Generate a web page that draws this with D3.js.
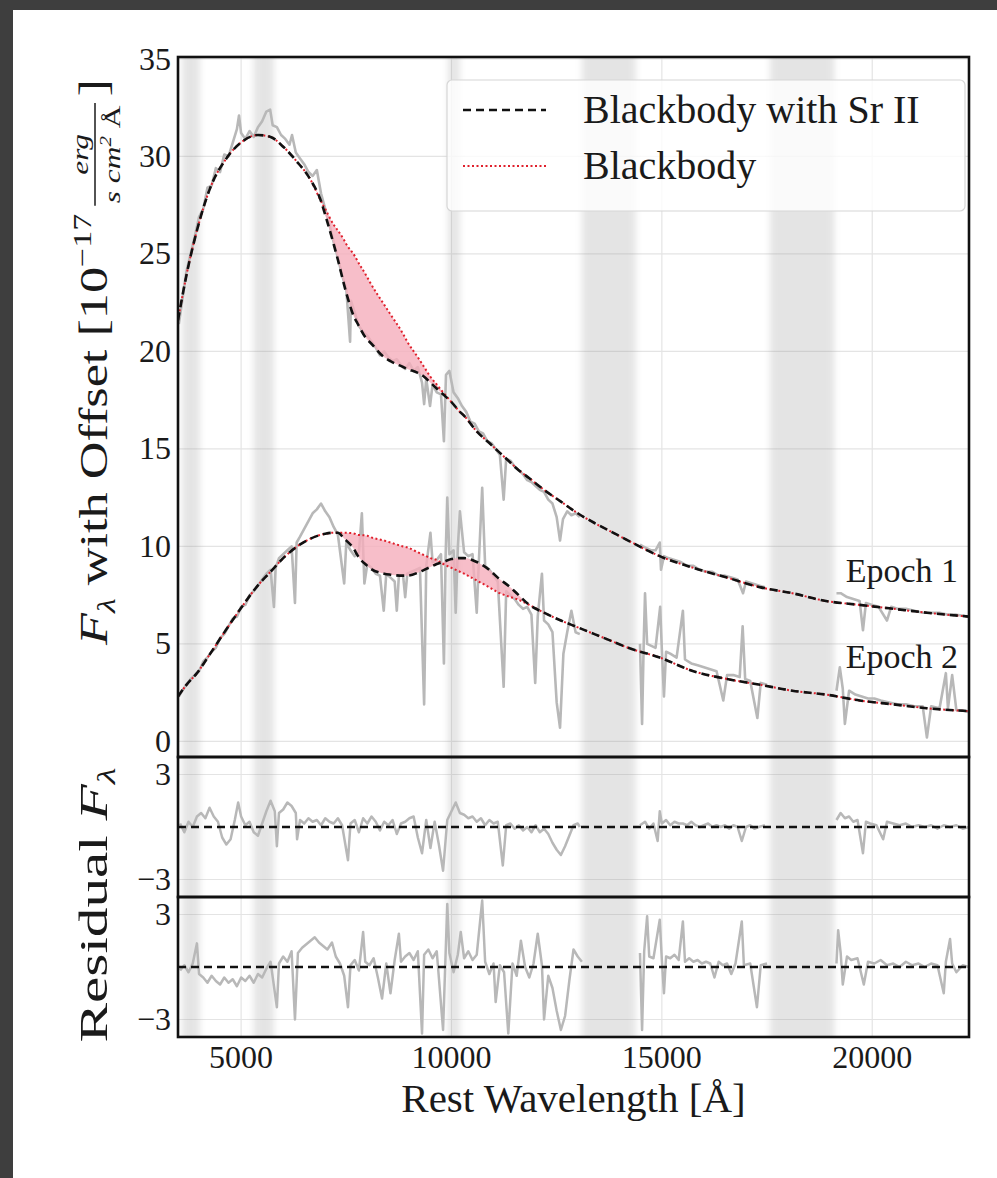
<!DOCTYPE html>
<html><head><meta charset="utf-8">
<script src="https://cdn.jsdelivr.net/npm/d3@7"></script>
<style>
body{margin:0;background:#fff;}
svg{display:block;}
text{font-family:"Liberation Serif","Times New Roman",serif;fill:#1a1a1a;}
</style>
</head><body>
<svg id="c" width="997" height="1178"></svg>
<script>
// ---------------- DATA ----------------
const modelWl = [3500,3700,3950,4250,4650,5050,5400,5700,6000,6300,6650,6900,7000,7200,7300,7450,7500,7700,7750,8000,8050,8400,8550,8850,8950,9200,9350,9500,9650,9800,10000,10200,10300,10600,10900,11100,11400,11550,11850,12200,12600,13000,13400,13800,14200,14950,15750,16550,17350,18100,18900,19700,20500,21300,22300];
// Epoch 1 (offset) : Blackbody and Blackbody with Sr II
const bb1 = [21.6,23.9,26.2,28.3,29.9,30.8,31.1,31.0,30.5,29.8,28.8,27.7,27.3,26.5,26.2,25.7,25.5,24.9,24.7,23.8,23.6,22.4,21.9,20.9,20.5,19.7,19.2,18.7,18.3,17.9,17.4,16.9,16.7,15.9,15.3,14.9,14.3,14.0,13.5,12.9,12.3,11.7,11.2,10.75,10.3,9.5,8.9,8.4,7.9,7.6,7.2,7.0,6.8,6.6,6.4];
const sr1 = [21.6,23.9,26.2,28.3,29.9,30.8,31.1,31.0,30.5,29.8,28.8,27.7,27.0,25.5,24.7,23.4,23.0,21.7,21.5,20.6,20.5,19.7,19.5,19.2,19.1,18.9,18.7,18.4,18.1,17.8,17.4,16.9,16.7,15.9,15.3,14.9,14.3,14.0,13.5,12.9,12.3,11.7,11.2,10.75,10.3,9.5,8.9,8.4,7.9,7.6,7.2,7.0,6.8,6.6,6.4];
// Epoch 2
const bb2 = [2.3,2.9,3.5,4.45,5.75,7.0,8.0,8.7,9.4,9.95,10.4,10.6,10.65,10.7,10.7,10.7,10.7,10.65,10.6,10.55,10.5,10.3,10.2,10.0,9.95,9.7,9.55,9.4,9.3,9.1,8.9,8.7,8.6,8.25,7.9,7.65,7.4,7.3,7.0,6.6,6.2,5.85,5.5,5.15,4.8,4.3,3.6,3.2,2.9,2.6,2.4,2.1,1.9,1.7,1.55];
const sr2 = [2.3,2.9,3.5,4.45,5.75,7.0,8.0,8.7,9.4,9.95,10.4,10.6,10.65,10.7,10.7,10.4,10.3,9.8,9.6,9.0,8.9,8.6,8.55,8.5,8.5,8.65,8.8,8.95,9.1,9.2,9.35,9.4,9.4,9.2,8.8,8.4,7.9,7.6,7.0,6.6,6.2,5.85,5.5,5.15,4.8,4.3,3.6,3.2,2.9,2.6,2.4,2.1,1.9,1.7,1.55];

// Observed spectra [wavelength, flux]; null = telluric gap
const obs1 = [[3520,21.4],[3600,22.6],[3700,24.1],[3800,25.0],[3900,25.9],[4000,26.9],[4100,27.3],[4200,28.4],[4300,28.5],[4400,29.4],[4500,29.2],[4600,30.1],[4700,30.0],[4800,30.7],[4900,31.4],[4950,32.1],[5000,31.2],[5100,30.9],[5200,31.3],[5300,31.0],[5400,31.5],[5500,31.8],[5600,32.3],[5690,32.4],[5750,31.6],[5850,31.5],[5950,31.1],[6050,30.9],[6150,30.6],[6210,31.1],[6300,30.2],[6400,29.9],[6500,29.6],[6600,29.2],[6700,29.0],[6800,29.3],[6900,28.1],[7000,27.3],[7100,26.5],[7200,25.6],[7300,24.8],[7400,23.9],[7500,23.2],[7590,20.5],[7610,22.6],[7700,22.0],[7800,21.3],[7900,21.0],[8000,20.8],[8100,20.5],[8200,20.2],[8300,19.8],[8400,20.0],[8500,19.7],[8600,19.5],[8700,19.6],[8800,19.3],[8900,19.1],[9000,19.4],[9100,19.0],[9200,19.2],[9300,18.4],[9350,17.3],[9400,18.6],[9490,17.2],[9550,18.3],[9650,17.9],[9750,17.8],[9820,15.4],[9870,18.8],[9950,19.0],[10050,17.9],[10150,17.6],[10250,17.2],[10350,16.9],[10450,16.4],[10550,16.3],[10650,15.9],[10750,15.8],[10850,15.4],[10950,15.3],[11050,15.0],[11150,14.7],[11240,12.4],[11300,14.5],[11400,14.4],[11500,14.1],[11600,13.9],[11700,13.7],[11800,13.4],[11900,13.3],[12000,13.1],[12100,12.9],[12200,12.8],[12300,12.4],[12400,12.2],[12500,11.5],[12580,10.3],[12650,11.4],[12750,11.8],[12850,11.6],[12950,11.7],[13050,11.5],
null,
[14480,10.1],[14550,10.0],[14650,9.9],[14750,9.8],[14850,9.8],[14950,10.2],[14980,8.8],[15050,9.5],[15150,9.4],[15300,9.3],[15450,9.2],[15600,9.0],[15750,9.0],[15900,8.8],[16050,8.7],[16200,8.7],[16350,8.5],[16500,8.5],[16650,8.4],[16800,8.3],[16930,7.6],[17000,8.2],[17150,8.1],[17300,8.0],[17450,7.9],
null,
[19150,7.6],[19250,7.6],[19400,7.4],[19550,7.3],[19700,7.2],[19780,5.7],[19850,7.1],[20000,7.0],[20150,6.9],[20350,6.2],[20450,6.9],[20600,6.8],[20800,6.8],[21000,6.7],[21200,6.6],[21400,6.6],[21600,6.6],[21800,6.5],[22000,6.5],[22300,6.4]];

const obs2 = [[3520,2.3],[3600,2.6],[3700,2.9],[3800,3.2],[3900,3.4],[4000,3.6],[4100,4.1],[4200,4.3],[4300,4.6],[4400,4.8],[4500,5.3],[4600,5.5],[4700,5.9],[4800,6.3],[4900,6.4],[5000,6.9],[5100,7.0],[5200,7.5],[5300,7.7],[5400,8.0],[5500,8.3],[5600,8.6],[5700,8.8],[5780,6.9],[5820,8.9],[5900,9.4],[6000,9.6],[6100,9.8],[6200,10.0],[6280,7.1],[6320,10.2],[6400,10.5],[6500,10.9],[6600,11.3],[6700,11.7],[6800,11.9],[6900,12.2],[7000,11.8],[7100,11.5],[7200,11.0],[7300,10.6],[7450,8.1],[7500,10.2],[7600,9.8],[7700,9.5],[7800,9.7],[7870,11.7],[7930,8.1],[8000,9.1],[8100,8.9],[8200,8.6],[8300,8.5],[8390,6.7],[8450,8.6],[8550,8.4],[8650,8.2],[8700,6.7],[8750,8.5],[8850,8.5],[8900,7.4],[8950,8.6],[9050,8.7],[9150,8.8],[9250,8.9],[9350,1.9],[9400,9.0],[9500,10.7],[9550,9.2],[9650,9.3],[9750,9.6],[9820,4.0],[9860,9.4],[9900,12.5],[9950,9.6],[10050,9.8],[10100,6.6],[10150,9.9],[10200,11.8],[10300,9.7],[10400,9.5],[10500,9.6],[10600,6.6],[10650,9.2],[10730,13.0],[10800,9.0],[10900,8.8],[11000,8.5],[11100,8.2],[11240,2.8],[11300,7.7],[11400,7.5],[11500,7.3],[11600,7.0],[11700,6.8],[11800,6.9],[11900,6.5],[11990,3.0],[12050,6.4],[12150,8.6],[12200,6.2],[12300,6.0],[12400,5.6],[12500,2.0],[12580,0.7],[12660,4.5],[12750,5.6],[12850,6.7],[12950,5.6],[13050,5.5],
null,
[14480,5.0],[14530,0.9],[14570,5.2],[14600,7.6],[14650,5.0],[14750,4.9],[14850,4.8],[14960,6.9],[15000,4.7],[15050,2.3],[15100,4.6],[15200,4.5],[15350,4.3],[15500,6.7],[15550,4.2],[15700,4.0],[15850,3.9],[16000,3.8],[16150,3.7],[16300,3.6],[16460,2.1],[16550,3.4],[16700,3.4],[16850,3.3],[16920,5.9],[16980,3.2],[17100,3.1],[17270,1.2],[17350,3.0],[17500,2.9],
null,
[19150,2.6],[19230,3.8],[19300,2.7],[19350,0.9],[19450,2.6],[19600,2.4],[19750,2.3],[19900,2.2],[20050,2.2],[20200,2.1],[20400,2.0],[20600,1.9],[20800,1.9],[21000,1.8],[21200,1.8],[21300,0.2],[21400,1.8],[21600,1.7],[21750,3.5],[21800,1.7],[21900,3.4],[22000,1.6],[22150,1.6],[22300,1.5]];

// Residuals [wavelength, residual]
const res1 = [[3550,0.2],[3650,-0.3],[3750,0.3],[3850,0.0],[3950,0.6],[4050,0.8],[4150,0.5],[4250,1.1],[4350,0.6],[4450,0.3],[4550,-0.6],[4650,-1.0],[4750,-0.7],[4850,0.4],[4930,1.4],[5000,0.6],[5100,0.1],[5200,0.3],[5300,-0.3],[5400,-0.5],[5500,0.2],[5600,0.9],[5700,1.5],[5800,0.9],[5850,-1.1],[5900,0.8],[6000,1.0],[6100,1.4],[6200,1.2],[6300,0.8],[6330,-0.7],[6400,0.4],[6500,0.2],[6600,0.5],[6700,0.3],[6800,0.4],[6900,0.1],[7000,0.5],[7100,0.3],[7200,0.2],[7300,0.5],[7400,0.1],[7540,-1.9],[7600,0.2],[7700,0.4],[7800,-0.3],[7900,0.5],[8000,0.2],[8100,0.6],[8200,0.3],[8300,-0.2],[8400,0.3],[8500,0.1],[8600,0.4],[8700,-0.4],[8800,0.2],[8900,0.3],[9000,0.5],[9100,0.6],[9200,-0.6],[9300,-1.5],[9400,0.4],[9500,-1.2],[9600,0.3],[9700,-1.0],[9800,-2.5],[9900,0.4],[10000,0.9],[10100,1.4],[10200,0.8],[10300,0.7],[10400,0.5],[10500,0.6],[10600,0.3],[10700,0.5],[10800,0.1],[10900,0.4],[11000,0.2],[11100,0.3],[11220,-2.2],[11300,0.1],[11400,0.2],[11500,-0.1],[11600,0.1],[11700,-0.2],[11800,0.0],[11900,-0.3],[12000,0.1],[12100,-0.3],[12200,-0.1],[12300,-0.4],[12400,-0.9],[12500,-1.3],[12600,-1.6],[12700,-1.1],[12800,-0.5],[12900,0.1],[13000,0.2],[13050,0.0],
null,
[14480,0.1],[14600,0.3],[14700,-0.1],[14800,0.2],[14900,-0.8],[14950,0.9],[15000,0.2],[15100,0.4],[15200,0.1],[15300,0.3],[15400,0.2],[15500,0.2],[15600,0.1],[15700,0.3],[15800,0.1],[15900,0.0],[16000,0.1],[16100,0.2],[16200,0.0],[16300,0.1],[16400,0.0],[16500,0.1],[16600,-0.1],[16700,0.1],[16800,0.0],[16900,-0.8],[17000,0.0],[17100,0.1],[17200,-0.1],[17300,0.0],[17450,0.1],
null,
[19150,0.4],[19250,0.8],[19350,0.5],[19450,0.6],[19550,0.3],[19650,0.4],[19780,-1.5],[19850,0.3],[19950,0.2],[20100,0.1],[20260,-0.7],[20350,0.3],[20500,0.2],[20650,0.1],[20800,0.2],[20950,0.0],[21100,0.1],[21250,0.0],[21400,0.1],[21550,-0.1],[21700,0.1],[21850,0.0],[22000,0.1],[22150,-0.1],[22300,0.0]];

const res2 = [[3550,-0.2],[3650,0.1],[3750,-0.3],[3850,0.2],[3950,1.35],[4000,-0.4],[4100,-0.6],[4200,-0.9],[4300,-0.5],[4400,-0.8],[4500,-1.0],[4600,-0.6],[4700,-0.9],[4800,-0.7],[4900,-1.1],[5000,-0.6],[5100,-0.8],[5200,-0.5],[5300,-0.9],[5400,-0.4],[5500,-0.6],[5600,-0.1],[5700,0.3],[5850,-2.3],[5900,0.2],[6000,0.6],[6100,0.3],[6200,0.9],[6280,-3.0],[6350,0.8],[6450,1.1],[6550,1.3],[6650,1.5],[6750,1.7],[6850,1.4],[6950,1.2],[7050,1.0],[7160,1.4],[7250,0.6],[7350,0.2],[7450,-0.5],[7540,-2.3],[7600,0.1],[7700,0.4],[7800,-0.2],[7900,2.0],[7950,0.3],[8050,0.1],[8150,0.5],[8250,-0.6],[8350,-1.8],[8450,0.2],[8550,-1.5],[8650,0.4],[8750,1.9],[8800,0.3],[8900,0.6],[9000,0.8],[9100,0.4],[9200,0.9],[9300,-3.8],[9350,0.7],[9450,1.0],[9550,0.5],[9650,0.9],[9800,-3.6],[9900,3.6],[9950,0.8],[10050,-0.3],[10150,0.7],[10220,2.0],[10300,0.5],[10400,0.9],[10500,0.4],[10600,0.7],[10730,3.8],[10800,0.3],[10900,-0.4],[11000,0.2],[11050,-2.0],[11150,0.1],[11250,-0.3],[11350,-3.8],[11450,0.2],[11550,-0.5],[11650,1.5],[11750,0.0],[11850,-0.6],[11950,0.2],[12050,1.9],[12150,0.1],[12200,-3.0],[12300,-0.5],[12400,-1.2],[12500,-2.5],[12600,-3.6],[12700,-2.8],[12800,-0.8],[12900,1.0],[13000,0.6],[13100,0.3],
null,
[14480,0.8],[14530,-3.6],[14580,0.9],[14650,2.9],[14700,0.6],[14800,0.5],[14950,2.7],[15000,0.4],[15050,-1.5],[15100,0.6],[15200,0.5],[15300,0.7],[15400,0.4],[15500,2.6],[15550,0.3],[15650,0.5],[15750,0.3],[15850,0.4],[15950,0.2],[16050,0.3],[16150,0.2],[16250,-0.6],[16350,0.3],[16450,0.1],[16550,0.2],[16650,-0.4],[16750,0.2],[16900,2.6],[16950,0.1],[17100,0.2],[17260,-2.3],[17350,0.1],[17500,0.2],
null,
[19150,0.2],[19190,2.1],[19250,0.8],[19300,-1.0],[19400,0.6],[19500,0.4],[19650,0.5],[19800,-1.0],[19900,0.3],[20050,0.2],[20200,0.4],[20350,0.1],[20500,0.2],[20650,0.0],[20800,0.3],[20950,0.1],[21100,0.2],[21250,0.0],[21400,0.2],[21550,0.1],[21700,-1.5],[21750,0.3],[21850,1.6],[21900,0.2],[22000,-0.3],[22150,0.1],[22300,0.0]];

const bands = [[3600,4020],[5300,5780],[9920,10200],[13100,14380],[17570,19100]];
const xTicks = [5000,10000,15000,20000];
const yTicksMain = [0,5,10,15,20,25,30,35];
const resTicks = [-3,3];
const epochNames = ["Epoch 1","Epoch 2"];
const legendNames = ["Blackbody with Sr II","Blackbody"];

// ---------------- LAYOUT ----------------
const L=178, R=969, T=57, B=1037;
const P = [{top:57,bot:757},{top:757,bot:897},{top:897,bot:1037}];
const x = d3.scaleLinear().domain([3500,22300]).range([L,R]);
const yM = d3.scaleLinear().domain([-0.8,35.1]).range([P[0].bot,P[0].top]);
const yR1 = d3.scaleLinear().domain([-4,4]).range([P[1].bot,P[1].top]);
const yR2 = d3.scaleLinear().domain([-4,4]).range([P[2].bot,P[2].top]);

const svg = d3.select('#c');
svg.append('rect').attr('width',997).attr('height',1178).attr('fill','#3e3e3e');
svg.append('rect').attr('x',13).attr('y',10).attr('width',984).attr('height',1168).attr('fill','#fff');

const defs = svg.append('defs');
defs.append('filter').attr('id','soft').attr('x','-50%').attr('width','200%')
  .append('feGaussianBlur').attr('stdDeviation','3 0');
defs.append('clipPath').attr('id','cAll').append('rect').attr('x',L).attr('y',T).attr('width',R-L).attr('height',B-T);
P.forEach((p,i)=>defs.append('clipPath').attr('id','cp'+i).append('rect').attr('x',L).attr('y',p.top).attr('width',R-L).attr('height',p.bot-p.top));

// grid
const grid = svg.append('g').attr('stroke','#e4e4e4').attr('stroke-width',1.2);
grid.selectAll('.vx').data(xTicks).join('line').attr('x1',d=>x(d)).attr('x2',d=>x(d)).attr('y1',T).attr('y2',B);
grid.selectAll('.hm').data(yTicksMain).join('line').attr('x1',L).attr('x2',R).attr('y1',d=>yM(d)).attr('y2',d=>yM(d));
grid.selectAll('.h1').data(resTicks).join('line').attr('x1',L).attr('x2',R).attr('y1',d=>yR1(d)).attr('y2',d=>yR1(d));
grid.selectAll('.h2').data(resTicks).join('line').attr('x1',L).attr('x2',R).attr('y1',d=>yR2(d)).attr('y2',d=>yR2(d));

// telluric bands
svg.append('g').attr('clip-path','url(#cAll)').selectAll('rect').data(bands).join('rect')
  .attr('x',d=>x(d[0])).attr('width',d=>x(d[1])-x(d[0])).attr('y',T-5).attr('height',B-T+10)
  .attr('fill','#8a8a8a').attr('opacity',0.22).attr('filter','url(#soft)');

// main panel
const gM = svg.append('g').attr('clip-path','url(#cp0)');
const obsLine = d3.line().defined(d=>d!==null).x(d=>x(d[0])).y(d=>yM(d[1]));
[obs1,obs2].forEach(o=>gM.append('path').attr('d',obsLine(o)).attr('fill','none')
  .attr('stroke','#b8b8b8').attr('stroke-width',2.6).attr('stroke-linejoin','round'));

const idx = d3.range(modelWl.length);
[[bb1,sr1],[bb2,sr2]].forEach(([bb,sr])=>{
  gM.append('path').attr('d',d3.area().curve(d3.curveMonotoneX).x(i=>x(modelWl[i])).y0(i=>yM(bb[i])).y1(i=>yM(sr[i]))(idx))
    .attr('fill','#f5aebb').attr('opacity',0.8);
});
[bb1,bb2].forEach(bb=>gM.append('path').attr('d',d3.line().curve(d3.curveMonotoneX).x(i=>x(modelWl[i])).y(i=>yM(bb[i]))(idx))
  .attr('fill','none').attr('stroke','#e0202c').attr('stroke-width',2).attr('stroke-dasharray','2,2.5'));
[sr1,sr2].forEach(sr=>gM.append('path').attr('d',d3.line().curve(d3.curveMonotoneX).x(i=>x(modelWl[i])).y(i=>yM(sr[i]))(idx))
  .attr('fill','none').attr('stroke','#111').attr('stroke-width',2.6).attr('stroke-dasharray','8,5'));

// residual panels
[[res1,yR1,1],[res2,yR2,2]].forEach(([r,ys,k])=>{
  const g = svg.append('g').attr('clip-path',`url(#cp${k})`);
  g.append('path').attr('d',d3.line().defined(d=>d!==null).x(d=>x(d[0])).y(d=>ys(d[1]))(r))
    .attr('fill','none').attr('stroke','#b8b8b8').attr('stroke-width',2.5).attr('stroke-linejoin','round');
  g.append('line').attr('x1',L).attr('x2',R).attr('y1',ys(0)).attr('y2',ys(0))
    .attr('stroke','#111').attr('stroke-width',2.6).attr('stroke-dasharray','8,5');
});

// legend
const lg = svg.append('g');
lg.append('rect').attr('x',447).attr('y',80).attr('width',518).attr('height',131).attr('rx',5)
  .attr('fill','#fff').attr('fill-opacity',0.8).attr('stroke','#d6d6d6').attr('stroke-width',1.2);
const legY = [110,166];
lg.append('line').attr('x1',463).attr('x2',546).attr('y1',legY[0]).attr('y2',legY[0])
  .attr('stroke','#111').attr('stroke-width',2.6).attr('stroke-dasharray','8,5');
lg.append('line').attr('x1',463).attr('x2',546).attr('y1',legY[1]).attr('y2',legY[1])
  .attr('stroke','#e0202c').attr('stroke-width',2).attr('stroke-dasharray','2,2.5');
legendNames.forEach((t,i)=>lg.append('text').attr('x',583).attr('y',legY[i]).attr('dy','0.33em')
  .attr('font-size',40).text(t));

// epoch labels
epochNames.forEach((t,i)=>svg.append('text').attr('x',958).attr('y',[582,668][i])
  .attr('text-anchor','end').attr('font-size',34).text(t));

// frames
P.forEach(p=>svg.append('rect').attr('x',L).attr('y',p.top).attr('width',R-L).attr('height',p.bot-p.top)
  .attr('fill','none').attr('stroke','#111').attr('stroke-width',2.6));

// tick labels
svg.selectAll('.yt').data(yTicksMain).join('text').attr('x',171).attr('y',d=>yM(d)).attr('dy','0.33em')
  .attr('text-anchor','end').attr('font-size',32).text(d=>d);
[yR1,yR2].forEach(ys=>svg.append('g').selectAll('text').data(resTicks).join('text').attr('x',171)
  .attr('y',d=>ys(d)).attr('dy','0.33em').attr('text-anchor','end').attr('font-size',32)
  .text(d=>d<0?'\u2212'+Math.abs(d):d));
svg.selectAll('.xt').data(xTicks).join('text').attr('x',d=>x(d)).attr('y',1068)
  .attr('text-anchor','middle').attr('font-size',32).text(d=>d);

// x label
svg.append('text').attr('x',(L+R)/2).attr('y',1112).attr('text-anchor','middle').attr('font-size',41)
  .text('Rest Wavelength [\u00C5]');

// y label (main), stretched along its length to span the reference extent
const yl = svg.append('g');
const t = yl.append('text').attr('font-size',40);
t.append('tspan').attr('font-style','italic').text('F');
t.append('tspan').attr('font-style','italic').attr('font-size',26).attr('dy',8).text('\u03BB');
t.append('tspan').attr('dy',-8).text(' with Offset [10');
t.append('tspan').attr('font-size',26).attr('dy',-16).text('\u221217');
const w1 = t.node().getComputedTextLength();
const fx = w1 + 6;
const num = yl.append('text').attr('font-size',24).attr('font-style','italic').attr('y',-19).text('erg');
const den = yl.append('text').attr('font-size',24).attr('y',13);
den.append('tspan').attr('font-style','italic').text('s cm');
den.append('tspan').attr('font-size',16).attr('dy',-9).attr('font-style','italic').text('2');
den.append('tspan').attr('dy',9).text(' \u00C5');
const nw = num.node().getComputedTextLength(), dw = den.node().getComputedTextLength();
const fw = Math.max(nw,dw)+4;
num.attr('x',fx+fw/2).attr('text-anchor','middle');
den.attr('x',fx+(fw-dw)/2);
yl.append('line').attr('x1',fx).attr('x2',fx+fw).attr('y1',-12).attr('y2',-12).attr('stroke','#1a1a1a').attr('stroke-width',1.5);
const br = yl.append('text').attr('font-size',40).attr('x',fx+fw+5).text(']');
const total = fx+fw+5+br.node().getComputedTextLength();
const S = 566/total;
yl.attr('transform',`translate(107,${362+S*total/2}) rotate(-90) scale(${S},1)`);

// residual label
const rl = svg.append('text').attr('text-anchor','middle').attr('font-size',40);
rl.append('tspan').text('Residual ');
rl.append('tspan').attr('font-style','italic').text('F');
rl.append('tspan').attr('font-style','italic').attr('font-size',26).attr('dy',8).text('\u03BB');
const rlen = rl.node().getComputedTextLength();
rl.attr('transform',`translate(107,905) rotate(-90) scale(${275/rlen},1)`);
</script>
</body></html>
